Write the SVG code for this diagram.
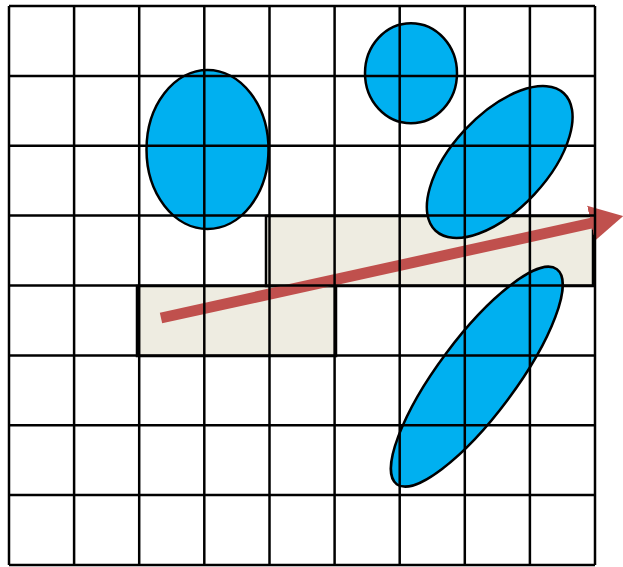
<svg xmlns="http://www.w3.org/2000/svg" width="623" height="567" viewBox="0 0 623 567">
<style>
.rect{fill:#EEECE1;stroke:#000;stroke-width:2.5}
.blob{fill:#00B0F0;stroke:#000;stroke-width:2.5}
.grid line{stroke:#000;stroke-width:2.5}
.arrow{stroke:#C0504D;stroke-width:11;fill:none}
</style>
<defs>
<marker id="head" markerUnits="userSpaceOnUse" markerWidth="34" markerHeight="38" refX="1" refY="19" orient="auto">
<path d="M0,1 L33,19 L0,37 Z" fill="#C0504D"/>
</marker>
</defs>
<rect width="623" height="567" fill="#fff"/>
<g id="rect-lower"><rect class="rect" x="137" y="286" width="199" height="70"/></g>
<g id="rect-upper"><rect class="rect" x="266" y="216" width="327" height="70"/></g>
<g id="ellipse-1"><ellipse class="blob" cx="207.5" cy="149.5" rx="61" ry="79.5"/></g>
<g id="circle-1"><ellipse class="blob" cx="411" cy="73.3" rx="46" ry="50"/></g>
<g id="ellipse-2"><ellipse class="blob" cx="0" cy="0" rx="94" ry="47.4" transform="translate(499.7,162) rotate(-47)"/></g>
<g id="ellipse-3"><ellipse class="blob" cx="0" cy="0" rx="134" ry="38.6" transform="translate(476.8,376.7) rotate(-53.3)"/></g>
<g id="connectors"><line class="arrow" x1="161" y1="318" x2="592" y2="223" marker-end="url(#head)"/></g>
<g class="grid" id="grid">
<line x1="9" y1="6" x2="9" y2="565"/>
<line x1="74.1" y1="6" x2="74.1" y2="565"/>
<line x1="139.2" y1="6" x2="139.2" y2="565"/>
<line x1="204.3" y1="6" x2="204.3" y2="565"/>
<line x1="269.5" y1="6" x2="269.5" y2="565"/>
<line x1="334.6" y1="6" x2="334.6" y2="565"/>
<line x1="399.7" y1="6" x2="399.7" y2="565"/>
<line x1="464.8" y1="6" x2="464.8" y2="565"/>
<line x1="529.9" y1="6" x2="529.9" y2="565"/>
<line x1="595" y1="6" x2="595" y2="565"/>
<line x1="9" y1="6" x2="595" y2="6"/>
<line x1="9" y1="75.9" x2="595" y2="75.9"/>
<line x1="9" y1="145.8" x2="595" y2="145.8"/>
<line x1="9" y1="215.6" x2="595" y2="215.6"/>
<line x1="9" y1="285.5" x2="595" y2="285.5"/>
<line x1="9" y1="355.4" x2="595" y2="355.4"/>
<line x1="9" y1="425.3" x2="595" y2="425.3"/>
<line x1="9" y1="495.1" x2="595" y2="495.1"/>
<line x1="9" y1="565" x2="595" y2="565"/>
</g>
</svg>
